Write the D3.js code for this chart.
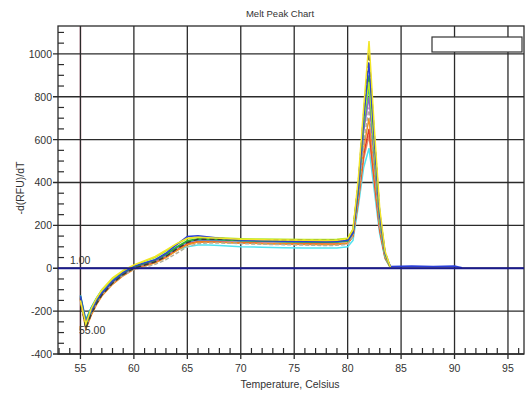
<!DOCTYPE html>
<html>
<head>
<meta charset="utf-8">
<script src="https://cdn.jsdelivr.net/npm/d3@7"></script>
<style>
  body { margin: 0; background: #fff; }
  text { font-family: Arial, "Liberation Sans", sans-serif; fill: #333; }
</style>
</head>
<body>
<div id="chart"></div>
<script>
// variables
const WIDTH = 526;
const HEIGHT = 394;
const PLOT = { left: 58, right: 524, top: 26, bottom: 354 };
const GRID_COLOR = "#2b2b2b";

// data
const temps = [55, 55.5, 56, 56.5, 57, 58, 59, 60, 61, 62, 63, 64, 65, 66, 67, 68, 70, 72, 74, 76, 78, 79, 80, 80.5, 81, 81.5, 82, 82.5, 83, 83.5, 84, 86, 88, 90, 90.7];
const xTicks = [55, 60, 65, 70, 75, 80, 85, 90, 95];
const yTicks = [-400, -200, 0, 200, 400, 600, 800, 1000];
const threshold = 0;
const startTemp = 55;
const thresholdLabel = "1.00";
const startLabel = "55.00";

const yellowVals = [-150, -260, -190, -140, -100, -45, -10, 15, 35, 55, 85, 115, 140, 145, 142, 140, 135, 133, 132, 131, 130, 131, 138, 180, 420, 750, 1060, 650, 280, 80, 5];
const blueVals = [-130, -250, -200, -150, -115, -60, -20, 10, 25, 40, 70, 110, 148, 152, 146, 140, 132, 128, 126, 125, 124, 125, 130, 165, 380, 700, 960, 600, 250, 70, 8, 10, 8, 10, 2];
const darkVals = [-140, -280, -215, -165, -125, -70, -30, 0, 15, 30, 55, 90, 120, 135, 136, 135, 133, 132, 131, 130, 129, 130, 135, 175, 400, 720, 1000, 620, 260, 75, 5];
const greenVals = [-135, -265, -205, -155, -118, -62, -24, 6, 22, 38, 66, 100, 128, 138, 137, 135, 130, 127, 125, 124, 123, 124, 128, 168, 370, 680, 900, 560, 235, 65, 5];
const limeVals = [-145, -255, -195, -145, -105, -50, -15, 12, 32, 50, 80, 112, 138, 146, 144, 142, 138, 136, 135, 134, 134, 135, 140, 182, 390, 690, 870, 550, 230, 60, 4];
const purpleVals = [-140, -270, -210, -160, -120, -66, -28, 3, 18, 34, 60, 94, 122, 132, 131, 130, 127, 125, 124, 123, 122, 123, 127, 165, 360, 640, 800, 500, 215, 60, 4];
const tealVals = [-125, -240, -185, -140, -102, -52, -18, 8, 24, 40, 64, 96, 124, 134, 133, 132, 128, 126, 124, 122, 121, 122, 126, 166, 365, 660, 850, 530, 225, 62, 4];
const orangeVals = [-150, -285, -220, -170, -130, -75, -35, -5, 10, 25, 50, 82, 110, 122, 122, 121, 118, 116, 114, 113, 112, 113, 118, 152, 330, 560, 700, 440, 190, 55, 4];
const redVals = [-145, -275, -215, -165, -125, -72, -32, -2, 12, 28, 52, 85, 112, 124, 123, 122, 119, 117, 115, 114, 113, 114, 117, 150, 320, 530, 650, 410, 180, 50, 4];
const salmonVals = [-135, -262, -205, -158, -120, -68, -30, 0, 14, 30, 54, 86, 114, 125, 124, 122, 118, 115, 113, 111, 110, 111, 115, 148, 310, 510, 620, 395, 175, 48, 3];
const cyanVals = [-130, -245, -185, -140, -100, -50, -15, 8, 20, 35, 58, 85, 100, 108, 108, 106, 100, 98, 96, 95, 94, 95, 100, 130, 290, 470, 560, 360, 160, 45, 3];
const grayVals = [-140, -270, -210, -160, -122, -70, -32, -5, 5, 18, 40, 70, 100, 115, 118, 118, 115, 112, 110, 108, 106, 107, 112, 150, 340, 580, 750, 470, 200, 55, 4];

const series = [
  { name: "cyan", color: "#4fe3f0", values: cyanVals },
  { name: "salmon", color: "#e8906a", values: salmonVals },
  { name: "red", color: "#e23a2a", values: redVals },
  { name: "orange", color: "#f39020", values: orangeVals },
  { name: "gray", color: "#b4b09a", values: grayVals, dash: "4,2" },
  { name: "purple", color: "#a25bc8", values: purpleVals },
  { name: "teal", color: "#22a6a0", values: tealVals },
  { name: "green", color: "#2fb02a", values: greenVals },
  { name: "lime", color: "#b4ea2a", values: limeVals },
  { name: "dark", color: "#3c3c3c", values: darkVals, dash: "5,3" },
  { name: "blue", color: "#2a3fd8", values: blueVals },
  { name: "yellow", color: "#f2e628", values: yellowVals }
];

// scales
const x = d3.scaleLinear().domain([52.9, 96.5]).range([PLOT.left, PLOT.right]);
const y = d3.scaleLinear().domain([-400, 1130]).range([PLOT.bottom, PLOT.top]);

const svg = d3
  .select("#chart")
  .append("svg")
  .attr("width", WIDTH)
  .attr("height", HEIGHT);

// title
svg.append("text")
  .attr("x", 280)
  .attr("y", 17)
  .attr("text-anchor", "middle")
  .attr("font-size", 9.5)
  .text("Melt Peak Chart");

// start temperature marker (pink)
svg.append("line")
  .attr("x1", x(startTemp)).attr("x2", x(startTemp))
  .attr("y1", PLOT.top).attr("y2", PLOT.bottom)
  .attr("stroke", "#f1a9bb")
  .attr("stroke-width", 1.6);

// gridlines
const grid = svg.append("g");
grid.selectAll("line.vx")
  .data(xTicks)
  .enter()
  .append("line")
  .attr("x1", d => x(d)).attr("x2", d => x(d))
  .attr("y1", PLOT.top).attr("y2", PLOT.bottom + 5)
  .attr("stroke", GRID_COLOR)
  .attr("stroke-width", 1.3);
grid.selectAll("line.hy")
  .data(yTicks)
  .enter()
  .append("line")
  .attr("x1", PLOT.left - 5).attr("x2", PLOT.right)
  .attr("y1", d => y(d)).attr("y2", d => y(d))
  .attr("stroke", GRID_COLOR)
  .attr("stroke-width", 1.3);

// minor ticks
const xMinor = d3.range(53, 97, 1).filter(d => d % 5 !== 0);
svg.append("g").selectAll("line")
  .data(xMinor)
  .enter()
  .append("line")
  .attr("x1", d => x(d)).attr("x2", d => x(d))
  .attr("y1", PLOT.bottom).attr("y2", PLOT.bottom - 6)
  .attr("stroke", GRID_COLOR)
  .attr("stroke-width", 1.2);
const yMinor = d3.range(-350, 1130, 50).filter(d => d % 200 !== 0);
svg.append("g").selectAll("line")
  .data(yMinor)
  .enter()
  .append("line")
  .attr("x1", PLOT.left).attr("x2", PLOT.left + 6)
  .attr("y1", d => y(d)).attr("y2", d => y(d))
  .attr("stroke", GRID_COLOR)
  .attr("stroke-width", 1.2);

// frame
svg.append("rect")
  .attr("x", PLOT.left).attr("y", PLOT.top)
  .attr("width", PLOT.right - PLOT.left)
  .attr("height", PLOT.bottom - PLOT.top)
  .attr("fill", "none")
  .attr("stroke", GRID_COLOR)
  .attr("stroke-width", 1.3);

// tick labels
svg.append("g").selectAll("text")
  .data(xTicks)
  .enter()
  .append("text")
  .attr("x", d => x(d))
  .attr("y", 372)
  .attr("text-anchor", "middle")
  .attr("font-size", 10.5)
  .text(d => d);
svg.append("g").selectAll("text")
  .data(yTicks)
  .enter()
  .append("text")
  .attr("x", 52)
  .attr("y", d => y(d) + 4)
  .attr("text-anchor", "end")
  .attr("font-size", 10.5)
  .text(d => d);

// axis titles
svg.append("text")
  .attr("x", 290)
  .attr("y", 388)
  .attr("text-anchor", "middle")
  .attr("font-size", 10.5)
  .text("Temperature, Celsius");
svg.append("text")
  .attr("transform", "translate(24,188) rotate(-90)")
  .attr("text-anchor", "middle")
  .attr("font-size", 10.5)
  .text("-d(RFU)/dT");

// melt curves
const line = d3.line()
  .defined(d => d[1] != null)
  .x(d => x(d[0]))
  .y(d => y(d[1]));

svg.append("g")
  .selectAll("path")
  .data(series)
  .enter()
  .append("path")
  .attr("d", s => line(temps.slice(0, s.values.length).map((t, i) => [t, s.values[i]])))
  .attr("fill", "none")
  .attr("stroke", s => s.color)
  .attr("stroke-width", 1.5)
  .attr("stroke-dasharray", s => s.dash || null);

// threshold line
svg.append("line")
  .attr("x1", PLOT.left).attr("x2", PLOT.right)
  .attr("y1", y(threshold)).attr("y2", y(threshold))
  .attr("stroke", "#1a1a8c")
  .attr("stroke-width", 2);

// marker labels
svg.append("text")
  .attr("x", 70)
  .attr("y", y(threshold) - 4)
  .attr("font-size", 10.5)
  .text(thresholdLabel);
svg.append("text")
  .attr("x", 79)
  .attr("y", 334)
  .attr("font-size", 10.5)
  .text(startLabel);

// empty legend box
svg.append("rect")
  .attr("x", 432).attr("y", 37)
  .attr("width", 90).attr("height", 15)
  .attr("fill", "#fff")
  .attr("stroke", "#333")
  .attr("stroke-width", 1.2);
</script>
</body>
</html>
